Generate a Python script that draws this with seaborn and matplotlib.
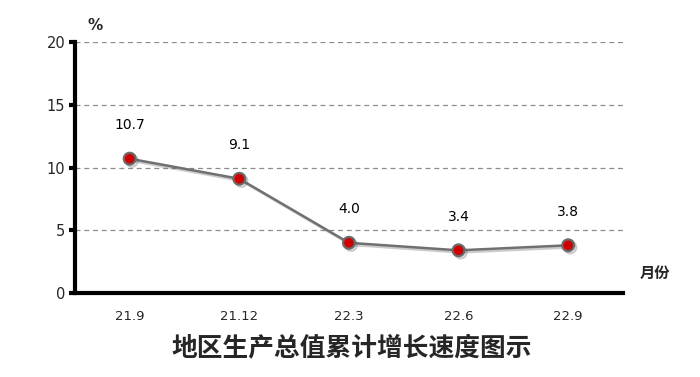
import matplotlib
matplotlib.use("Agg")
import matplotlib.pyplot as plt
import matplotlib.patheffects as pe
import seaborn as sns
import pandas as pd

months = ["21.9", "21.12", "22.3", "22.6", "22.9"]
growth = [10.7, 9.1, 4.0, 3.4, 3.8]
yticks = [0, 5, 10, 15, 20]

sns.set_style("white")
plt.rcParams['font.family'] = ['DejaVu Sans', 'Noto Sans CJK SC']

df = pd.DataFrame({"month": months, "growth": growth, "pos": range(len(months))})

fig = plt.figure(figsize=(7, 3.77), dpi=100)
ax = fig.add_axes([0.107, 0.2228, 0.783, 0.6658])

for y in yticks[1:]:
    ax.axhline(y, color="#8c8c8c", lw=0.9, ls=(0, (4, 3)), zorder=0)

sns.lineplot(data=df, x="pos", y="growth", ax=ax, color="#707070", lw=1.8,
             marker="o", markersize=8.5, markerfacecolor="#d00000",
             markeredgecolor="#6a6a6a", markeredgewidth=1.6,
             path_effects=[pe.SimpleLineShadow(offset=(1.5, -1.5), alpha=0.3, shadow_color="#555555"),
                           pe.Normal()])

for i, v in enumerate(growth):
    ax.annotate(f"{v:.1f}", (i, v), xytext=(0, 24), textcoords="offset points",
                ha="center", va="center", fontsize=10, color="black")

ax.set_xlim(-0.5, 4.5)
ax.set_ylim(0, 20)
ax.set_xticks(range(len(months)))
ax.set_xticklabels(months, fontsize=9.5)
ax.set_yticks(yticks)
ax.set_yticklabels([str(t) for t in yticks], fontsize=10.5)
ax.set_xlabel("")
ax.set_ylabel("")
for s in ["top", "right"]:
    ax.spines[s].set_visible(False)
for s in ["left", "bottom"]:
    ax.spines[s].set_visible(True)
    ax.spines[s].set_linewidth(3)
    ax.spines[s].set_color("black")
ax.tick_params(axis="y", left=True, length=4, width=3, pad=3, color="black")
ax.tick_params(axis="x", bottom=False, pad=9)

fig.text(95 / 700, 1 - 25 / 377, "%", fontsize=11, fontweight="bold", ha="center", va="center")
fig.text(655 / 700, 1 - 273 / 377, "月份", fontsize=11, fontweight="bold", ha="center", va="center",
         family=["Noto Sans CJK SC", "DejaVu Sans"])
fig.text(352 / 700, 1 - 349 / 377, "地区生产总值累计增长速度图示", fontsize=18.5, fontweight="bold",
         ha="center", va="center", family=["Noto Sans CJK SC", "DejaVu Sans"])

fig.savefig("out.png", dpi=100)
